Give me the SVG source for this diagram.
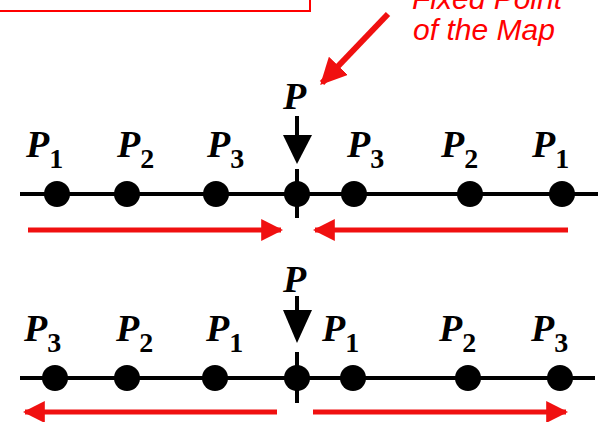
<svg xmlns="http://www.w3.org/2000/svg" width="607" height="422" viewBox="0 0 607 422">
<style>
.p{font-family:"Liberation Serif","Times New Roman",serif;font-style:italic;font-weight:bold;font-size:38px;fill:#000}
.s{font-style:normal;font-size:28px}
.dot{fill:#000}
.axis{stroke:#000;stroke-width:4;fill:none}
.red{stroke:#f01010;stroke-width:5;fill:none}
.note{font-family:"Liberation Sans",Arial,sans-serif;font-style:italic;font-size:30px;fill:#ff0000}
</style>
<defs>
<marker id="rh" viewBox="0 0 10 10" refX="9" refY="5" markerWidth="4.4" markerHeight="4.4" markerUnits="strokeWidth" orient="auto">
<path d="M0,0 L10,5 L0,10 Z" fill="#f01010"/>
</marker>
</defs>
<rect x="-5" y="-30" width="315" height="41" fill="none" stroke="#ff0000" stroke-width="2"/>
<g id="note">
<text class="note" x="487" y="9" text-anchor="middle">Fixed Point</text>
<text class="note" x="484" y="40" text-anchor="middle">of the Map</text>
</g>
<g id="connectors">
<line class="axis" x1="20" y1="194" x2="598" y2="194"/>
<line class="axis" x1="20" y1="378" x2="595" y2="378"/>
<line x1="388" y1="14" x2="322" y2="83" stroke="#f01010" stroke-width="6" marker-end="url(#rh)"/>
<line class="red" x1="28" y1="230" x2="281" y2="230" marker-end="url(#rh)"/>
<line class="red" x1="568" y1="230" x2="315" y2="230" marker-end="url(#rh)"/>
<line class="red" x1="277" y1="412" x2="25" y2="412" marker-end="url(#rh)"/>
<line class="red" x1="313" y1="412" x2="566" y2="412" marker-end="url(#rh)"/>
</g>
<g id="fixed-top">
<text class="p" x="283" y="109">P</text>
<line class="axis" x1="297" y1="116" x2="297" y2="137"/>
<path d="M283,135 L312,135 L297,164 Z" fill="#000"/>
<line class="axis" x1="297" y1="169" x2="297" y2="218"/>
<circle class="dot" cx="297" cy="194" r="13"/>
</g>
<g id="top-left-P1"><circle class="dot" cx="57" cy="194" r="13"/><text class="p" x="26" y="157">P<tspan class="s" dy="11">1</tspan></text></g>
<g id="top-left-P2"><circle class="dot" cx="127" cy="194" r="13"/><text class="p" x="117" y="157">P<tspan class="s" dy="11">2</tspan></text></g>
<g id="top-left-P3"><circle class="dot" cx="216" cy="194" r="13"/><text class="p" x="207" y="157">P<tspan class="s" dy="11">3</tspan></text></g>
<g id="top-right-P3"><circle class="dot" cx="354" cy="194" r="13"/><text class="p" x="347" y="157">P<tspan class="s" dy="11">3</tspan></text></g>
<g id="top-right-P2"><circle class="dot" cx="470" cy="194" r="13"/><text class="p" x="441" y="157">P<tspan class="s" dy="11">2</tspan></text></g>
<g id="top-right-P1"><circle class="dot" cx="562" cy="194" r="13"/><text class="p" x="532" y="157">P<tspan class="s" dy="11">1</tspan></text></g>
<g id="fixed-bottom">
<text class="p" x="283" y="292">P</text>
<line class="axis" x1="297" y1="296" x2="297" y2="312"/>
<path d="M283,310 L312,310 L297,343 Z" fill="#000"/>
<line class="axis" x1="297" y1="352" x2="297" y2="403"/>
<circle class="dot" cx="297" cy="378" r="13"/>
</g>
<g id="bottom-left-P3"><circle class="dot" cx="55" cy="378" r="13"/><text class="p" x="24" y="341">P<tspan class="s" dy="11">3</tspan></text></g>
<g id="bottom-left-P2"><circle class="dot" cx="127" cy="378" r="13"/><text class="p" x="116" y="341">P<tspan class="s" dy="11">2</tspan></text></g>
<g id="bottom-left-P1"><circle class="dot" cx="215" cy="378" r="13"/><text class="p" x="206" y="341">P<tspan class="s" dy="11">1</tspan></text></g>
<g id="bottom-right-P1"><circle class="dot" cx="353" cy="378" r="13"/><text class="p" x="322" y="341">P<tspan class="s" dy="11">1</tspan></text></g>
<g id="bottom-right-P2"><circle class="dot" cx="468" cy="378" r="13"/><text class="p" x="439" y="341">P<tspan class="s" dy="11">2</tspan></text></g>
<g id="bottom-right-P3"><circle class="dot" cx="560" cy="378" r="13"/><text class="p" x="531" y="341">P<tspan class="s" dy="11">3</tspan></text></g>
</svg>
